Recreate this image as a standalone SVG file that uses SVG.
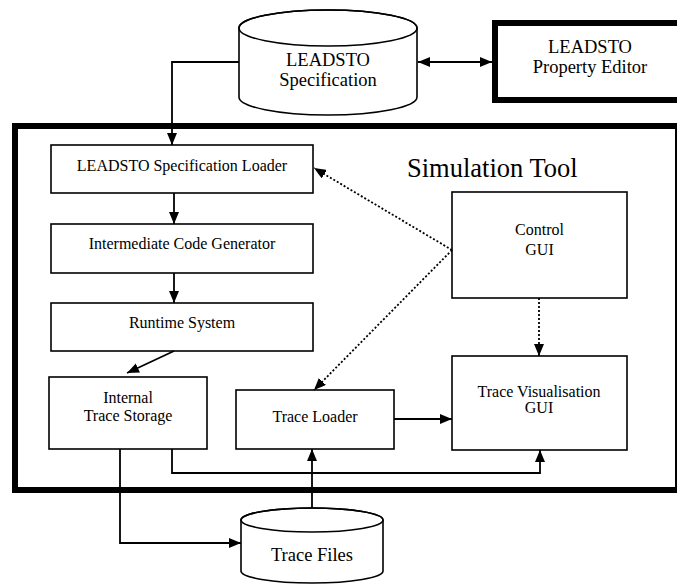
<svg xmlns="http://www.w3.org/2000/svg" width="677" height="585" viewBox="0 0 677 585">
<style>
  .box { fill: #fff; stroke: #000; stroke-width: 1.6; }
  .thick { fill: none; stroke: #000; stroke-width: 6; }
  text { font-family: 'Liberation Serif', 'DejaVu Serif', serif; fill: #000; }
  .t { font-size: 16px; text-anchor: middle; }
  .tl { font-size: 18.5px; text-anchor: middle; }
  .title { font-size: 26.5px; }
  .c { fill: none; stroke: #000; stroke-width: 1.8; }
  .d { fill: none; stroke: #000; stroke-width: 1.8; stroke-dasharray: 2 2; }
</style>
<defs>
  <marker id="ah" markerUnits="userSpaceOnUse" markerWidth="12" markerHeight="10" refX="12" refY="5" orient="auto-start-reverse">
    <path d="M0,0 L12,5 L0,10 z" fill="#000"/>
  </marker>
</defs>
<rect width="677" height="585" fill="#fff"/>

<g id="simulation-tool">
  <rect class="thick" x="15" y="126" width="663" height="364"/>
  <text class="title" x="407" y="177" font-family="Liberation Serif, serif">Simulation Tool</text>
</g>

<g id="leadsto-specification">
  <path class="box" d="M239,28 V97 A89,18 0 0 0 417,97 V28 A89,18 0 0 0 239,28 Z"/>
  <ellipse cx="328" cy="28" rx="89" ry="18" fill="none" stroke="#000" stroke-width="1.6"/>
  <text class="tl" x="328" y="66">LEADSTO</text>
  <text class="tl" x="328" y="86">Specification</text>
</g>

<g id="property-editor">
  <rect class="thick" x="495" y="23" width="190" height="77"/>
  <text class="tl" x="590" y="53">LEADSTO</text>
  <text class="tl" x="590" y="73">Property Editor</text>
</g>

<g id="spec-loader">
  <rect class="box" x="51" y="145" width="262" height="48"/>
  <text class="t" x="182" y="171">LEADSTO Specification Loader</text>
</g>

<g id="code-generator">
  <rect class="box" x="51" y="224" width="262" height="49"/>
  <text class="t" x="182" y="249">Intermediate Code Generator</text>
</g>

<g id="runtime-system">
  <rect class="box" x="51" y="303" width="262" height="48"/>
  <text class="t" x="182" y="328">Runtime System</text>
</g>

<g id="internal-trace-storage">
  <rect class="box" x="49" y="377" width="158" height="72"/>
  <text class="t" x="128" y="403">Internal</text>
  <text class="t" x="128" y="421">Trace Storage</text>
</g>

<g id="trace-loader">
  <rect class="box" x="236" y="390" width="158" height="59"/>
  <text class="t" x="315" y="422">Trace Loader</text>
</g>

<g id="control-gui">
  <rect class="box" x="452" y="192" width="175" height="106"/>
  <text class="t" x="539.5" y="235">Control</text>
  <text class="t" x="539.5" y="255">GUI</text>
</g>

<g id="trace-visualisation-gui">
  <rect class="box" x="452" y="356" width="175" height="94"/>
  <text class="t" x="539" y="397">Trace Visualisation</text>
  <text class="t" x="539" y="413">GUI</text>
</g>

<g id="trace-files">
  <path class="box" d="M241,520 V571 A71,12 0 0 0 383,571 V520 A71,12 0 0 0 241,520 Z"/>
  <ellipse cx="312" cy="520" rx="71" ry="12" fill="none" stroke="#000" stroke-width="1.6"/>
  <text class="tl" x="312" y="561">Trace Files</text>
</g>

<g id="connectors">
  <path class="c" d="M239,62 H172 V145" marker-end="url(#ah)"/>
  <path class="c" d="M418,62 H492" marker-start="url(#ah)" marker-end="url(#ah)"/>
  <path class="c" d="M174,193 V224" marker-end="url(#ah)"/>
  <path class="c" d="M174,273 V303" marker-end="url(#ah)"/>
  <path class="c" d="M174,351 L127,373" marker-end="url(#ah)"/>
  <path class="c" d="M394,419 H452" marker-end="url(#ah)"/>
  <path class="c" d="M172,449 V473 H540 V450" marker-end="url(#ah)"/>
  <path class="c" d="M120,449 V543 H241" marker-end="url(#ah)"/>
  <path class="c" d="M312,508 V449" marker-end="url(#ah)"/>
  <path class="d" d="M452,250 L314,168" marker-end="url(#ah)"/>
  <path class="d" d="M452,250 L314,390" marker-end="url(#ah)"/>
  <path class="d" d="M539,298 V356" marker-end="url(#ah)"/>
</g>
</svg>
